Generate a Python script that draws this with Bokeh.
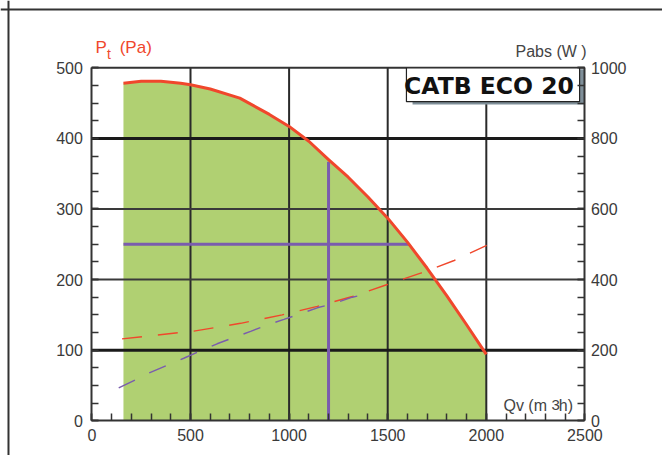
from bokeh.plotting import figure
from bokeh.models import Range1d, LinearAxis, FixedTicker, Span
from bokeh.core.properties import value
from bokeh.embed import file_html
from bokeh.resources import INLINE

# ---- data ----
flow_q = [160, 250, 350, 450, 500, 600, 750, 900, 1000, 1100, 1200, 1300, 1400, 1500, 1600, 1700, 1800, 1900, 2000]
pressure_pa = [478, 481, 481, 478, 476, 470, 457, 434, 417, 396, 370, 345, 317, 287, 253, 216, 177, 136, 94]

power_max_q = [153, 517, 754, 965, 1143, 1321, 1498, 1667, 1837, 2002]
power_max_w = [232, 254, 276, 300, 324, 352, 386, 418, 454, 497]

power_op_q = [136, 221, 297, 385, 466, 554, 635, 720, 805, 892, 974, 1058, 1143, 1227, 1321, 1414]
power_op_w = [93, 116, 137, 158, 177, 199, 218, 236, 253, 272, 287, 303, 320, 332, 350, 362]

cross_h_q = [160, 1608]
cross_h_p = [250, 250]
cross_v_q = [1200, 1200]
cross_v_p = [0, 367]

x_ticks = [0, 500, 1000, 1500, 2000, 2500]
y_ticks = [0, 100, 200, 300, 400, 500]
w_ticks = [0, 200, 400, 600, 800, 1000]
x_grid = [500, 1000, 1500, 2000]
y_grid_heavy = [100, 400]
y_grid_light = [200, 300]

RED = "#f0472c"
PURPLE = "#7a5cae"
GREEN = "#b0d072"
AX = "#333333"
TXT = "#3a3a3a"

X0, X1 = x_ticks[0], x_ticks[-1]
Y0, Y1 = y_ticks[0], y_ticks[-1]

p = figure(width=662, height=455, x_range=Range1d(-463.5, 2893.5), y_range=Range1d(-49.3, 595.4),
           output_backend="svg", toolbar_location=None,
           min_border=0, min_border_left=0, min_border_right=0, min_border_top=0, min_border_bottom=0)
p.background_fill_color = "white"
p.border_fill_color = "white"
p.outline_line_color = None
p.grid.visible = False

p.extra_y_ranges = {"w": Range1d(-98.6, 1190.8)}

# axes drawn at fixed locations inside the canvas
p.xaxis.ticker = FixedTicker(ticks=x_ticks, minor_ticks=list(range(0, 2501, 100)))
p.xaxis.fixed_location = Y0
p.xaxis.bounds = (X0, X1)
p.yaxis.ticker = FixedTicker(ticks=y_ticks, minor_ticks=list(range(0, 501, 25)))
p.yaxis.fixed_location = X0
p.yaxis.bounds = (Y0, Y1)
right = LinearAxis(y_range_name="w", ticker=FixedTicker(ticks=w_ticks, minor_ticks=list(range(0, 1001, 50))),
                   fixed_location=X1, bounds=(w_ticks[0], w_ticks[-1]))
p.add_layout(right, "right")

for ax, so in ((p.xaxis[0], 8), (p.yaxis[0], 9), (right, 6)):
    ax.axis_line_color = AX
    ax.axis_line_width = 2
    ax.major_tick_in = 7
    ax.major_tick_out = 0
    ax.minor_tick_in = 7
    ax.minor_tick_out = 0
    ax.major_tick_line_color = AX
    ax.major_tick_line_width = 1.5
    ax.minor_tick_line_color = AX
    ax.minor_tick_line_width = 1.5
    ax.major_label_text_font = "Liberation Sans"
    ax.major_label_text_font_size = "16px"
    ax.major_label_text_color = TXT
    ax.major_label_standoff = so

# green operating area
p.varea(x=flow_q, y1=[0] * len(flow_q), y2=pressure_pa, fill_color=GREEN)

# grid lines
p.segment(x0=x_grid, y0=[Y0] * len(x_grid), x1=x_grid, y1=[Y1] * len(x_grid), line_color="#2a2a2a", line_width=2)
p.segment(x0=[X0] * 2, y0=y_grid_light, x1=[X1] * 2, y1=y_grid_light, line_color="#3a3a3a", line_width=2)
p.segment(x0=[X0] * 2, y0=y_grid_heavy, x1=[X1] * 2, y1=y_grid_heavy, line_color="#1a1a1a", line_width=3)
p.segment(x0=[X0], y0=[Y1], x1=[X1], y1=[Y1], line_color=AX, line_width=2)

# power curves (right axis)
p.line(power_max_q, power_max_w, y_range_name="w", line_color=RED, line_width=1.4, line_dash="20 16")
p.line(power_op_q, power_op_w, y_range_name="w", line_color=PURPLE, line_width=1.4, line_dash="18 16")

# duty point cross
p.line(cross_h_q, cross_h_p, line_color=PURPLE, line_width=3)
p.line(cross_v_q, cross_v_p, line_color=PURPLE, line_width=3)

# pressure curve
p.line(flow_q, pressure_pa, line_color=RED, line_width=3, line_join="round")

# title box with shadow
p.quad(left=[1626], right=[2500], top=[498], bottom=[448], fill_color="#7f8f99", line_color=None)
p.quad(left=[1595], right=[2473], top=[500], bottom=[452], fill_color="white", line_color="#222222", line_width=1.2)
p.text(x=[1583], y=[474], text=["CATB ECO 20"], text_font=value("DejaVu Sans"), text_font_style="bold",
       text_font_size="23.5px", text_color="#111111", text_baseline="alphabetic")

# axis titles
def txt(x, y, s, size, color):
    p.text(x=[x], y=[y], text=[s], text_font=value("Liberation Sans"), text_font_size=size,
           text_color=color, text_baseline="alphabetic", text_align="left")

txt(18, 529, "P", "17px", RED)
txt(77, 520, "t", "14px", RED)
txt(141, 529, "(Pa)", "17px", RED)
txt(2148, 523, "Pabs (W )", "16px", "#444444")
txt(2087, 21, "Qv (m", "16px", "#444444")
txt(2330, 22, "3", "15px", "#444444")
txt(2368, 21, "h)", "16px", "#444444")

# outer page frame (top and left edges)
p.add_layout(Span(location=-423, dimension="height", line_color=AX, line_width=2))
p.add_layout(Span(location=582.6, dimension="width", line_color=AX, line_width=2))

open("out.html", "w").write(file_html(p, INLINE))
